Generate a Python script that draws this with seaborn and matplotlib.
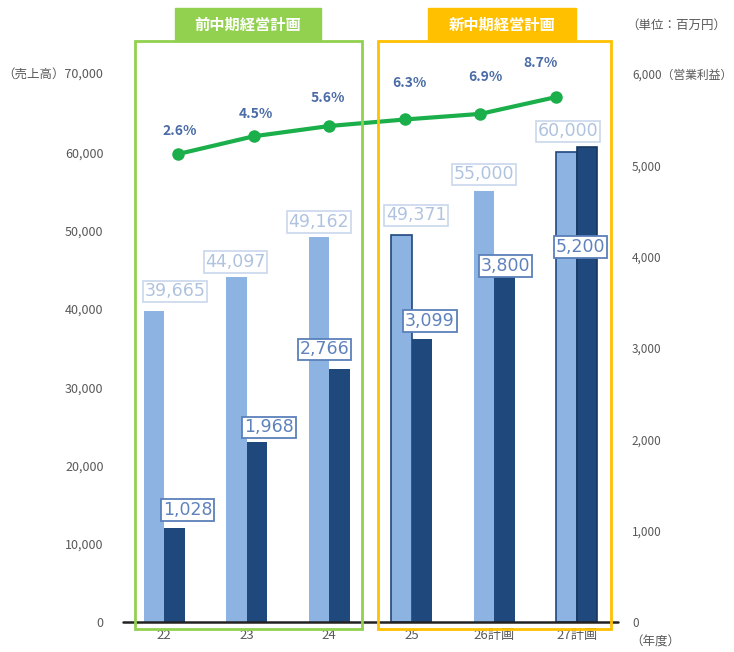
import numpy as np
import pandas as pd
import matplotlib
matplotlib.use("Agg")
import matplotlib.pyplot as plt
import matplotlib.transforms as mtransforms
from matplotlib.patches import Rectangle
import seaborn as sns

# ---------------- data ----------------
years = ["22", "23", "24", "25", "26計画", "27計画"]
sales = [39665, 44097, 49162, 49371, 55000, 60000]          # 売上高 (left axis)
profit = [1028, 1968, 2766, 3099, 3800, 5200]               # 営業利益 (right axis)
margin = [2.6, 4.5, 5.6, 6.3, 6.9, 8.7]                     # 営業利益率 (%)
left_ticks = [0, 10000, 20000, 30000, 40000, 50000, 60000, 70000]
right_ticks = [0, 1000, 2000, 3000, 4000, 5000, 6000]
series_names = ["売上高", "営業利益"]

# label offsets (pixels) -- styling only
sales_lbl_dx = [21, -1, 0, 15, 0, 2]
sales_lbl_dy = [20, 15, 15, 20, 17, 21]
profit_lbl_dx = [13, 12, -15, 8, 1, -7]
profit_lbl_dy = [18, 15, 20, 18, 9, -100]
margin_lbl_dx = [2, 2, -1, 5, 5, -15]
margin_lbl_dy = [23, 22, 28, 36, 37, 34]

# ---------------- style ----------------
sns.set_theme(style="white")
plt.rcParams["font.family"] = ["Noto Sans CJK JP", "DejaVu Sans"]

LIGHT = "#8DB3E2"
DARK = "#1F487C"
GREEN = "#1AAF4B"
GRAY = "#595959"
PCT = "#4A6BA6"

W, H = 734, 652
fig = plt.figure(figsize=(W / 100, H / 100), dpi=100)
x0, x1, ytop, ybot = 123, 618, 74, 622
pos = [x0 / W, 1 - ybot / H, (x1 - x0) / W, (ybot - ytop) / H]
ax1 = fig.add_axes(pos)
ax2 = ax1.twinx()

n = len(years)
df_left = pd.DataFrame({
    "year": years * 2,
    "series": [series_names[0]] * n + [series_names[1]] * n,
    "value": sales + [np.nan] * n,
})
df_right = pd.DataFrame({
    "year": years * 2,
    "series": [series_names[0]] * n + [series_names[1]] * n,
    "value": [np.nan] * n + profit,
})

sns.barplot(data=df_left, x="year", y="value", hue="series", hue_order=series_names,
            order=years, palette=[LIGHT, DARK], width=0.5, dodge=True, saturation=1,
            legend=False, ax=ax1, errorbar=None, linewidth=0)
sns.barplot(data=df_right, x="year", y="value", hue="series", hue_order=series_names,
            order=years, palette=[LIGHT, DARK], width=0.5, dodge=True, saturation=1,
            legend=False, ax=ax2, errorbar=None, linewidth=0)

for ax in (ax1, ax2):
    ax.set_xlim(-0.5, n - 0.5)
    for s in ax.spines.values():
        s.set_visible(False)
    ax.set_xlabel("")
    ax.set_ylabel("")
    ax.grid(False)

ax1.set_ylim(0, 70000)
ax2.set_ylim(0, 6000)

ax1.set_yticks(left_ticks)
ax1.set_yticklabels([f"{v:,}" for v in left_ticks[:-1]] + [f"（売上高）{left_ticks[-1]:,}"])
ax2.set_yticks(right_ticks)
ax2.set_yticklabels([f"{v:,}" for v in right_ticks[:-1]] + [f"{right_ticks[-1]:,}（営業利益）"])
ax1.tick_params(axis="y", length=0, pad=14, labelsize=9, labelcolor=GRAY)
ax2.tick_params(axis="y", length=0, pad=10, labelsize=8.5, labelcolor=GRAY)
ax1.tick_params(axis="x", length=0, pad=5, labelsize=9.5, labelcolor=GRAY)
ax1.set_xticks(range(n))
ax1.set_xticklabels(years)

# bottom axis line
ax2.axhline(0, color="#222222", lw=1.8, zorder=5, clip_on=False)

# bars (collect)
light_bars = [p for p in ax1.patches if np.isfinite(p.get_height()) and p.get_height() > 0]
dark_bars = [p for p in ax2.patches if np.isfinite(p.get_height()) and p.get_height() > 0]
light_bars.sort(key=lambda p: p.get_x())
dark_bars.sort(key=lambda p: p.get_x())

# edges like reference
for idx in (3, 5):
    light_bars[idx].set_edgecolor(DARK)
    light_bars[idx].set_linewidth(1.2)
dark_bars[5].set_edgecolor("#16375F")
dark_bars[5].set_linewidth(1.2)

NUMFONT = ["DejaVu Sans"]

# sales labels
for i, p in enumerate(light_bars):
    cx = p.get_x() + p.get_width() / 2
    ax1.annotate(f"{sales[i]:,}", xy=(cx, p.get_height()), xytext=(sales_lbl_dx[i], sales_lbl_dy[i]),
                 textcoords="offset pixels", ha="center", va="center", fontsize=12.5,
                 family=NUMFONT, color="#AFC3DF", zorder=6,
                 bbox=dict(boxstyle="square,pad=0.1", fc="white", ec="#C9D8EC", lw=1.2))

# profit labels
for i, p in enumerate(dark_bars):
    cx = p.get_x() + p.get_width() / 2
    ax2.annotate(f"{profit[i]:,}", xy=(cx, p.get_height()), xytext=(profit_lbl_dx[i], profit_lbl_dy[i]),
                 textcoords="offset pixels", ha="center", va="center", fontsize=12.5,
                 family=NUMFONT, color="#5F82BD", zorder=6,
                 bbox=dict(boxstyle="square,pad=0.1", fc="white", ec="#5A80BA", lw=1.3))

# margin line on its own hidden axes
ax3 = fig.add_axes(pos, frameon=False)
sns.lineplot(x=np.arange(n), y=margin, ax=ax3, color=GREEN, linewidth=3,
             marker="o", markersize=9, markeredgewidth=0)
ax3.set_xlim(-0.728, 5.82)
ax3.set_ylim(-47.5, 11.17)
ax3.set_xticks([])
ax3.set_yticks([])
ax3.grid(False)
for i, m in enumerate(margin):
    ax3.annotate(f"{m}%", xy=(i, m), xytext=(margin_lbl_dx[i], margin_lbl_dy[i]),
                 textcoords="offset pixels", ha="center", va="center",
                 fontsize=10, fontweight="bold", color=PCT)

# plan frames (x in category coords of ax1, y in axes fraction)
trans = mtransforms.blended_transform_factory(ax1.transData, ax1.transAxes)
frames = [
    (-0.355, 2.397, "#92D050", 0.13, 1.90, "前中期経営計画"),
    (2.59, 5.415, "#FFC000", 3.20, 4.99, "新中期経営計画"),
]
for fx0, fx1, col, hx0, hx1, title in frames:
    ax3.add_patch(Rectangle((fx0, -0.0128), fx1 - fx0, 1.06 + 0.0128, transform=trans,
                            fill=False, ec=col, lw=2, clip_on=False, zorder=8))
    ax3.add_patch(Rectangle((hx0, 1.06), hx1 - hx0, 0.06, transform=trans,
                            fc=col, ec=col, lw=1, clip_on=False, zorder=8))
    ax3.text((hx0 + hx1) / 2, 1.09, title, transform=trans, ha="center", va="center",
             color="white", fontsize=11, fontweight="bold", zorder=9)

# extra texts
fig.text(626 / W, 1 - 25 / H, "（単位：百万円）", ha="left", va="center", fontsize=9, color=GRAY)
fig.text(630 / W, 1 - 642 / H, "（年度）", ha="left", va="center", fontsize=9, color=GRAY)

fig.savefig("out.png", dpi=100)
